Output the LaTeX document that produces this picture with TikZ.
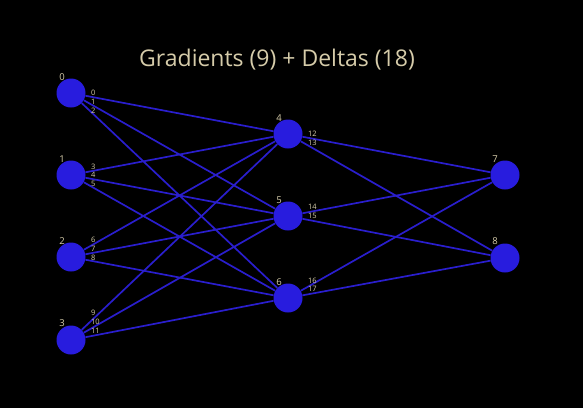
\documentclass[tikz,border=0pt]{standalone}
\usepackage{fontspec}
\setmainfont{Open Sans}
\usetikzlibrary{positioning}
\definecolor{nodeblue}{RGB}{40,28,222}
\definecolor{edgeblue}{RGB}{42,30,205}
\definecolor{labeltan}{RGB}{214,204,170}

\begin{document}
\begin{tikzpicture}[x=1pt,y=-1pt,
    neuron/.style={circle,fill=nodeblue,minimum size=29pt,inner sep=0pt},
    nlabel/.style={text=labeltan,font=\fontsize{9.5}{9.5}\selectfont,inner sep=0pt},
    elabel/.style={text=labeltan,font=\fontsize{7.5}{7.5}\selectfont,inner sep=0pt,anchor=west},
    link/.style={edgeblue,line width=1.7pt}]

    % Background
    \fill[black] (0,0) rectangle (583,408);
    \useasboundingbox (0,0) rectangle (583,408);

    % Title
    \node[text=labeltan,font=\fontsize{23}{23}\selectfont] (title) at (277,60) {Gradients (9) + Deltas (18)};

    % Input layer
    \node[neuron] (n0) at (71,93) {};
    \node[neuron] (n1) at (71,175) {};
    \node[neuron] (n2) at (71,257) {};
    \node[neuron] (n3) at (71,340) {};

    % Hidden layer
    \node[neuron] (n4) at (288,134) {};
    \node[neuron] (n5) at (288,216) {};
    \node[neuron] (n6) at (288,298) {};

    % Output layer
    \node[neuron] (n7) at (505,175) {};
    \node[neuron] (n8) at (505,258) {};

    % Node numbers
    \node[nlabel] (l0) at (62,77) {0};
    \node[nlabel] (l1) at (62,159) {1};
    \node[nlabel] (l2) at (62,241) {2};
    \node[nlabel] (l3) at (62,323) {3};
    \node[nlabel] (l4) at (279,118) {4};
    \node[nlabel] (l5) at (279,200) {5};
    \node[nlabel] (l6) at (279,282) {6};
    \node[nlabel] (l7) at (495,159) {7};
    \node[nlabel] (l8) at (495,241) {8};

    % Connections input -> hidden
    \foreach \i in {0,1,2,3}
        \foreach \j in {4,5,6}
            \draw[link] (n\i) -- (n\j);

    % Connections hidden -> output
    \foreach \i in {4,5,6}
        \foreach \j in {7,8}
            \draw[link] (n\i) -- (n\j);

    % Edge indices
    \node[elabel] (e0) at (91,93) {0};
    \node[elabel] (e1) at (91,102) {1};
    \node[elabel] (e2) at (91,111) {2};
    \node[elabel] (e3) at (91,167) {3};
    \node[elabel] (e4) at (91,175) {4};
    \node[elabel] (e5) at (91,184) {5};
    \node[elabel] (e6) at (91,240) {6};
    \node[elabel] (e7) at (91,249) {7};
    \node[elabel] (e8) at (91,258) {8};
    \node[elabel] (e9) at (91,313) {9};
    \node[elabel] (e10) at (91,322) {10};
    \node[elabel] (e11) at (91,331) {11};
    \node[elabel] (e12) at (308,134) {12};
    \node[elabel] (e13) at (308,143) {13};
    \node[elabel] (e14) at (308,207) {14};
    \node[elabel] (e15) at (308,216) {15};
    \node[elabel] (e16) at (308,281) {16};
    \node[elabel] (e17) at (308,289) {17};

\end{tikzpicture}
\end{document}
